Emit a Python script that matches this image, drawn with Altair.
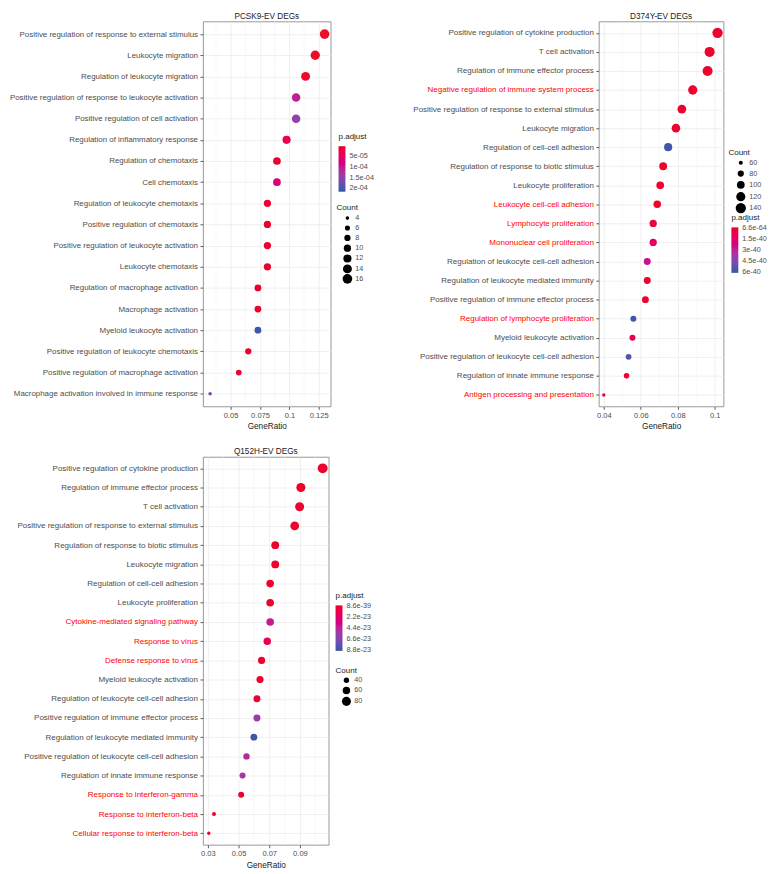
import json
import altair as alt
import pandas as pd

FONT = "Liberation Sans, Arial, Helvetica, sans-serif"
RED = "#EC1028"
BLUE = "#3757A8"
LBL = "#4D4D4D"
DARK = "#1A1A1A"

# ---------------- PCSK9-EV DEGs ----------------
p1_terms = [
    "Positive regulation of response to external stimulus",
    "Leukocyte migration",
    "Regulation of leukocyte migration",
    "Positive regulation of response to leukocyte activation",
    "Positive regulation of cell activation",
    "Regulation of inflammatory response",
    "Regulation of chemotaxis",
    "Cell chemotaxis",
    "Regulation of leukocyte chemotaxis",
    "Positive regulation of chemotaxis",
    "Positive regulation of leukocyte activation",
    "Leukocyte chemotaxis",
    "Regulation of macrophage activation",
    "Macrophage activation",
    "Myeloid leukocyte activation",
    "Positive regulation of leukocyte chemotaxis",
    "Positive regulation of macrophage activation",
    "Macrophage activation involved in immune response",
]
p1_ratio = [0.130, 0.122, 0.1138, 0.1057, 0.1057, 0.0976, 0.0894, 0.0894, 0.0813,
            0.0813, 0.0813, 0.0813, 0.0732, 0.0732, 0.0732, 0.065, 0.0569, 0.0325]
p1_count = [16, 15, 14, 13, 13, 12, 11, 11, 10, 10, 10, 10, 9, 9, 9, 8, 7, 4]
p1_padj = [5.5e-6, 6e-6, 7e-6, 1.05e-4, 1.45e-4, 3.5e-5, 1.2e-5, 7.0e-5, 1e-5,
           1e-5, 1e-5, 1e-5, 1.2e-5, 1.2e-5, 2.1e-4, 1.2e-5, 1.5e-5, 1.65e-4]
p1_red = []
p1_xdom = [0.0264, 0.1351]
p1_major = [0.05, 0.075, 0.1, 0.125]
p1_minor = [0.0375, 0.0625, 0.0875, 0.1125]
p1_cdom = [2.15e-4, 5e-6]
p1_cvals = [5e-05, 1e-04, 1.5e-04, 2e-04]
p1_svals = [4, 6, 8, 10, 12, 14, 16]

# ---------------- D374Y-EV DEGs ----------------
p2_terms = [
    "Positive regulation of cytokine production",
    "T cell activation",
    "Regulation of immune effector process",
    "Negative regulation of immune system process",
    "Positive regulation of response to external stimulus",
    "Leukocyte migration",
    "Regulation of cell-cell adhesion",
    "Regulation of response to biotic stimulus",
    "Leukocyte proliferation",
    "Leukocyte cell-cell adhesion",
    "Lymphocyte proliferation",
    "Mononuclear cell proliferation",
    "Regulation of leukocyte cell-cell adhesion",
    "Regulation of leukocyte mediated immunity",
    "Positive regulation of immune effector process",
    "Regulation of lymphocyte proliferation",
    "Myeloid leukocyte activation",
    "Positive regulation of leukocyte cell-cell adhesion",
    "Regulation of innate immune response",
    "Antigen processing and presentation",
]
p2_ratio = [0.1015, 0.0972, 0.0961, 0.0881, 0.0822, 0.079, 0.0748, 0.0721, 0.0705, 0.0689,
            0.0667, 0.0667, 0.0635, 0.0635, 0.0625, 0.056, 0.0555, 0.0534, 0.0523, 0.040]
p2_count = [142, 136, 135, 123, 115, 111, 105, 101, 99, 96,
            93, 93, 89, 89, 88, 78, 78, 75, 73, 56]
p2_padj = [1e-60, 1e-55, 1e-52, 1e-48, 1e-47, 1e-46, 5.9e-40, 1e-45, 1e-45, 1e-44,
           4e-41, 1.2e-40, 2.6e-40, 1e-42, 1e-42, 5.9e-40, 6e-41, 5.6e-40, 1e-42, 6e-41]
p2_red = ["Negative regulation of immune system process", "Leukocyte cell-cell adhesion",
          "Lymphocyte proliferation", "Mononuclear cell proliferation",
          "Regulation of lymphocyte proliferation", "Antigen processing and presentation"]
p2_xdom = [0.0373, 0.1047]
p2_major = [0.04, 0.06, 0.08, 0.1]
p2_minor = [0.05, 0.07, 0.09]
p2_cdom = [6.12e-40, -0.12e-40]
p2_cvals = [6.6e-64, 1.5e-40, 3e-40, 4.5e-40, 6e-40]
p2_svals = [60, 80, 100, 120, 140]

# ---------------- Q152H-EV DEGs ----------------
p3_terms = [
    "Positive regulation of cytokine production",
    "Regulation of immune effector process",
    "T cell activation",
    "Positive regulation of response to external stimulus",
    "Regulation of response to biotic stimulus",
    "Leukocyte migration",
    "Regulation of cell-cell adhesion",
    "Leukocyte proliferation",
    "Cytokine-mediated signaling pathway",
    "Response to virus",
    "Defense response to virus",
    "Myeloid leukocyte activation",
    "Regulation of leukocyte cell-cell adhesion",
    "Positive regulation of immune effector process",
    "Regulation of leukocyte mediated immunity",
    "Positive regulation of leukocyte cell-cell adhesion",
    "Regulation of innate immune response",
    "Response to interferon-gamma",
    "Response to interferon-beta",
    "Cellular response to interferon-beta",
]
p3_ratio = [0.1048, 0.0906, 0.0898, 0.0866, 0.0739, 0.0739, 0.0706, 0.0706, 0.0706, 0.0687,
            0.065, 0.064, 0.062, 0.062, 0.060, 0.0552, 0.0526, 0.0517, 0.034, 0.0306]
p3_count = [92, 80, 79, 76, 65, 65, 62, 62, 62, 60, 57, 56, 55, 55, 53, 49, 46, 45, 30, 27]
p3_padj = [1e-35, 1e-30, 1e-30, 1e-30, 1e-28, 1e-28, 1e-27, 1e-27, 4.0e-23, 1.2e-23,
           1e-25, 1e-26, 1e-25, 5.6e-23, 8.8e-23, 4.6e-23, 5.4e-23, 1e-25, 1e-26, 1e-25]
p3_red = ["Cytokine-mediated signaling pathway", "Response to virus", "Defense response to virus",
          "Response to interferon-gamma", "Response to interferon-beta",
          "Cellular response to interferon-beta"]
p3_xdom = [0.0268, 0.1087]
p3_major = [0.03, 0.05, 0.07, 0.09]
p3_minor = [0.04, 0.06, 0.08, 0.1]
p3_cdom = [8.98e-23, -0.18e-23]
p3_cvals = [8.6e-39, 2.2e-23, 4.4e-23, 6.6e-23, 8.8e-23]
p3_svals = [40, 60, 80]

LABEL_EXPR = "replace(format(datum.value, '~e'), /e-(\\d)$/, 'e-0$1')"


def panel(title, terms, ratio, count, padj, red_terms, xdom, major, minor,
          cdom, cvals, svals, srange, w, h, cleg, sleg, yfont, rowpad, symoff):
    df = pd.DataFrame({"term": terms, "GeneRatio": ratio, "Count": count, "padj": padj})
    xs = alt.Scale(domain=xdom, nice=False, zero=False)
    red_test = "indexof(%s, datum.value) >= 0" % json.dumps(red_terms)
    y_axis = alt.Axis(
        title=None,
        labelColor={"condition": {"test": red_test, "value": "#FF0000"}, "value": LBL},
        labelFontSize=yfont, labelLimit=400, labelPadding=2.5,
        tickColor="#333333", tickSize=3, tickWidth=0.8,
        grid=True, gridColor="#EBEBEB", gridWidth=0.8, domain=False,
    )
    x_axis = alt.Axis(
        title="GeneRatio", values=major, format=".3~g",
        labelFontSize=7.6, labelColor=LBL, labelPadding=2,
        tickColor="#333333", tickSize=3, tickWidth=0.8,
        grid=True, gridColor="#EBEBEB", gridWidth=0.8, domain=False,
        titleFontSize=8.3, titleFontWeight="normal", titleColor=DARK, titlePadding=3,
    )
    rules = alt.Chart(pd.DataFrame({"GeneRatio": minor})).mark_rule(
        color="#F3F3F3", strokeWidth=0.6
    ).encode(x=alt.X("GeneRatio:Q", scale=xs, axis=x_axis))
    pts = alt.Chart(df).mark_circle(opacity=1).encode(
        x=alt.X("GeneRatio:Q", scale=xs, axis=x_axis),
        y=alt.Y("term:N", sort=terms, scale=alt.Scale(type="point", padding=0.6), axis=y_axis),
        color=alt.Color(
            "padj:Q",
            scale=alt.Scale(domain=cdom, range=[BLUE, RED], interpolate="hcl"),
            legend=alt.Legend(
                title="p.adjust", orient="none", legendX=cleg[0], legendY=cleg[1],
                values=cvals, labelExpr=LABEL_EXPR, gradientLength=46,
                gradientThickness=7, gradientStrokeWidth=0, labelOverlap=False,
                labelFontSize=7.3, labelColor=LBL, titleFontSize=8.1,
                titleFontWeight="normal", titleColor=DARK, titlePadding=5,
                labelOffset=4, direction="vertical",
            ),
        ),
        size=alt.Size(
            "Count:Q",
            scale=alt.Scale(zero=False, range=srange),
            legend=alt.Legend(
                title="Count", orient="none", legendX=sleg[0], legendY=sleg[1],
                values=svals, symbolFillColor="black", symbolStrokeColor="black",
                symbolStrokeWidth=0, symbolType="circle", symbolOpacity=1,
                labelFontSize=7.3, labelColor=LBL, titleFontSize=8.1,
                titleFontWeight="normal", titleColor=DARK, titlePadding=2,
                rowPadding=rowpad, gridAlign="all", labelOffset=3, symbolOffset=symoff,
            ),
        ),
    )
    return alt.layer(rules, pts).properties(
        width=w, height=h,
        title=alt.TitleParams(text=title, fontSize=8.3, fontWeight="normal",
                              color=DARK, anchor="middle", offset=1, font=FONT),
    )


c1 = panel("PCSK9-EV DEGs", p1_terms, p1_ratio, p1_count, p1_padj, p1_red,
           p1_xdom, p1_major, p1_minor, p1_cdom, p1_cvals, p1_svals, [13, 95],
           129, 389, (137, 113), (135, 185), 8.0, -1.2, 6)
c2 = panel("D374Y-EV DEGs", p2_terms, p2_ratio, p2_count, p2_padj, p2_red,
           p2_xdom, p2_major, p2_minor, p2_cdom, p2_cvals, p2_svals, [12, 110],
           126, 389, (134, 195), (131, 129), 8.1, -3.2, 7)
c3 = panel("Q152H-EV DEGs", p3_terms, p3_ratio, p3_count, p3_padj, p3_red,
           p3_xdom, p3_major, p3_minor, p3_cdom, p3_cvals, p3_svals, [12, 100],
           127, 392, (134, 137), (134, 212), 8.1, -0.3, 6)

chart = alt.concat(
    c1, c2, c3, columns=2, bounds="flush",
    spacing={"row": 51, "column": 271},
).resolve_scale(
    color="independent", size="independent", x="independent", y="independent"
).properties(
    autosize=alt.AutoSizeParams(type="none"),
    padding={"left": 197, "top": 9, "right": 572, "bottom": 857},
    background="white",
).configure_view(
    stroke="#8C8C8C", strokeWidth=0.9
).configure_axis(
    labelFont=FONT, titleFont=FONT
).configure_legend(
    labelFont=FONT, titleFont=FONT
).configure_title(font=FONT)

chart.save("out.html", embed_options={"renderer": "svg", "actions": False})
